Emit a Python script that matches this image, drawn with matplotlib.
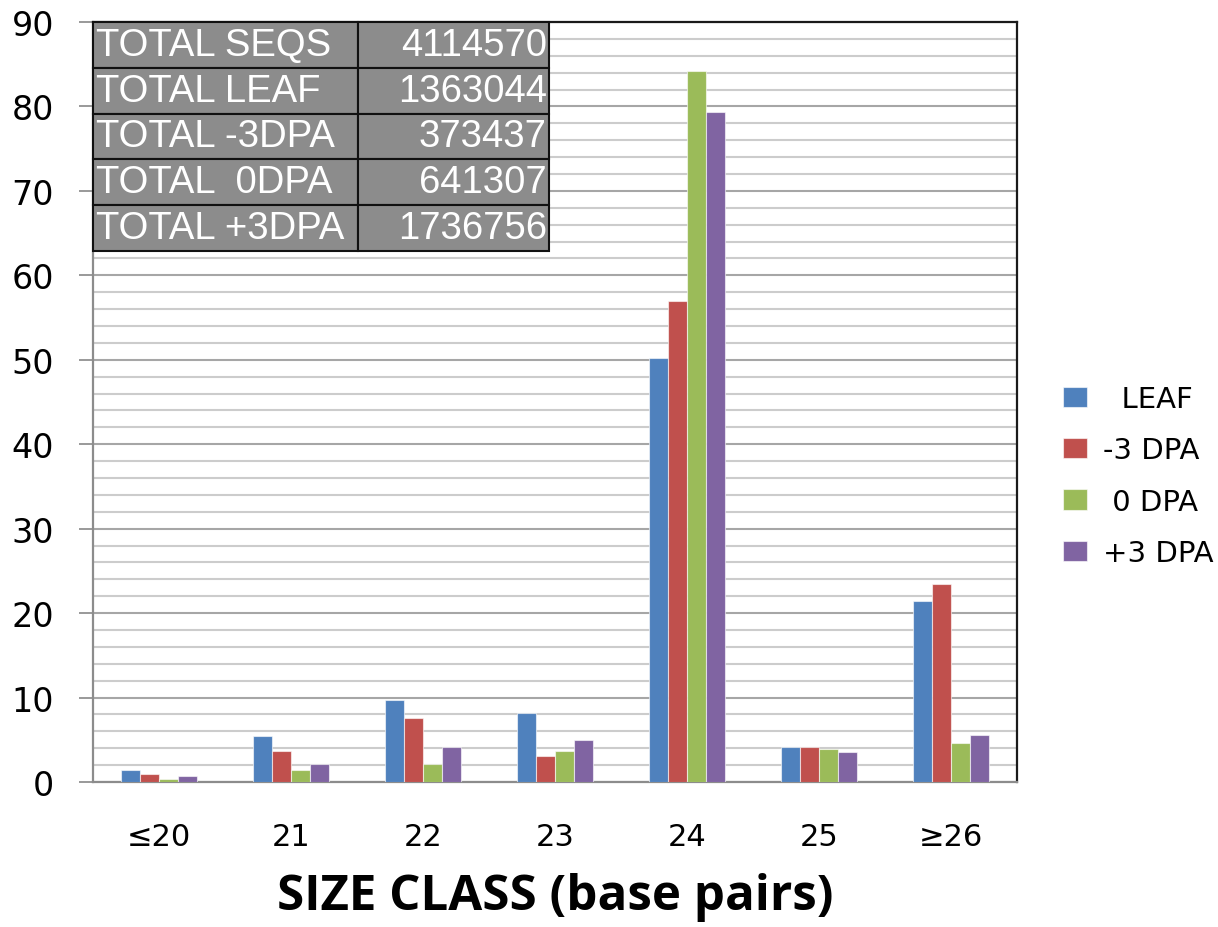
import matplotlib

matplotlib.use("Agg")
import matplotlib.pyplot as plt
import numpy as np
from matplotlib.ticker import MultipleLocator

plt.rcParams["font.family"] = ["DejaVu Sans"]

# Size classes and percentage of reads per tissue
categories = ["≤20", "21", "22", "23", "24", "25", "≥26"]
leaf = [1.4, 5.4, 9.7, 8.2, 50.2, 4.1, 21.4]
dpa_minus3 = [1.0, 3.7, 7.6, 3.1, 57.0, 4.2, 23.5]
dpa_0 = [0.3, 1.4, 2.1, 3.7, 84.2, 3.9, 4.6]
dpa_plus3 = [0.7, 2.1, 4.2, 5.0, 79.3, 3.5, 5.6]

series_labels = ["  LEAF", "-3 DPA", " 0 DPA", "+3 DPA"]
series_colors = ["#4F81BD", "#C0504D", "#9BBB59", "#8064A2"]

# Read totals table
table_labels = ["TOTAL SEQS", "TOTAL LEAF", "TOTAL -3DPA", "TOTAL  0DPA", "TOTAL +3DPA"]
table_values = ["4114570", "1363044", "373437", "641307", "1736756"]

fig = plt.figure(figsize=(12.18, 9.28), dpi=100)
ax = fig.add_axes([0.07635, 0.15625, 0.75862, 0.81897])

x = np.arange(len(categories))
width = 0.144
series = [leaf, dpa_minus3, dpa_0, dpa_plus3]
for i, (vals, lab, col) in enumerate(zip(series, series_labels, series_colors)):
    offset = (i - 1.5) * width
    ax.bar(x + offset, vals, width, color=col, label=lab,
           edgecolor=(1, 1, 1, 0.6), linewidth=0.8, zorder=3)

ax.set_xlim(-0.5, len(categories) - 0.5)
ax.set_ylim(0, 90)
ax.yaxis.set_major_locator(MultipleLocator(10))
ax.yaxis.set_minor_locator(MultipleLocator(2))
ax.grid(which="major", axis="y", color="#a6a6a6", linewidth=1.5, zorder=0)
ax.grid(which="minor", axis="y", color="#cccccc", linewidth=1.5, zorder=0)
ax.tick_params(axis="y", which="major", direction="out", length=10,
               width=1.2, color="#888888", labelsize=24, pad=18)
ax.tick_params(axis="y", which="minor", length=0)
ax.tick_params(axis="x", length=0, labelsize=22, pad=29)
ax.set_xticks(x)
ax.set_xticklabels(categories)

for side in ["left", "bottom"]:
    ax.spines[side].set_color("#8c8c8c")
    ax.spines[side].set_linewidth(1.6)
for side in ["top", "right"]:
    ax.spines[side].set_color("#1a1a1a")
    ax.spines[side].set_linewidth(1.6)

ax.set_xlabel("SIZE CLASS (base pairs)", family="Open Sans", fontweight="bold",
              fontsize=35.5, labelpad=15)

# totals table in the upper left corner
cell_text = [[a, b] for a, b in zip(table_labels, table_values)]
tbl = ax.table(cellText=cell_text, colWidths=[0.581, 0.419],
               bbox=[0.0, 0.6987, 0.4935, 0.3013], zorder=5)
tbl.auto_set_font_size(False)
for (r, c), cell in tbl.get_celld().items():
    cell.set_facecolor("#8c8c8c")
    cell.set_edgecolor("#111111")
    cell.set_linewidth(1.5)
    cell.PAD = 0.012
    txt = cell.get_text()
    txt.set_color("white")
    txt.set_fontsize(27.5)
    txt.set_family("Liberation Sans")
    txt.set_ha("left" if c == 0 else "right")
    cell._loc = "left" if c == 0 else "right"

fig.legend(loc="center left", bbox_to_anchor=(0.851, 0.486), frameon=False,
           fontsize=21, handlelength=0.82, handleheight=0.7,
           handletextpad=0.55, labelspacing=0.8)

fig.savefig("out.png", dpi=100)
